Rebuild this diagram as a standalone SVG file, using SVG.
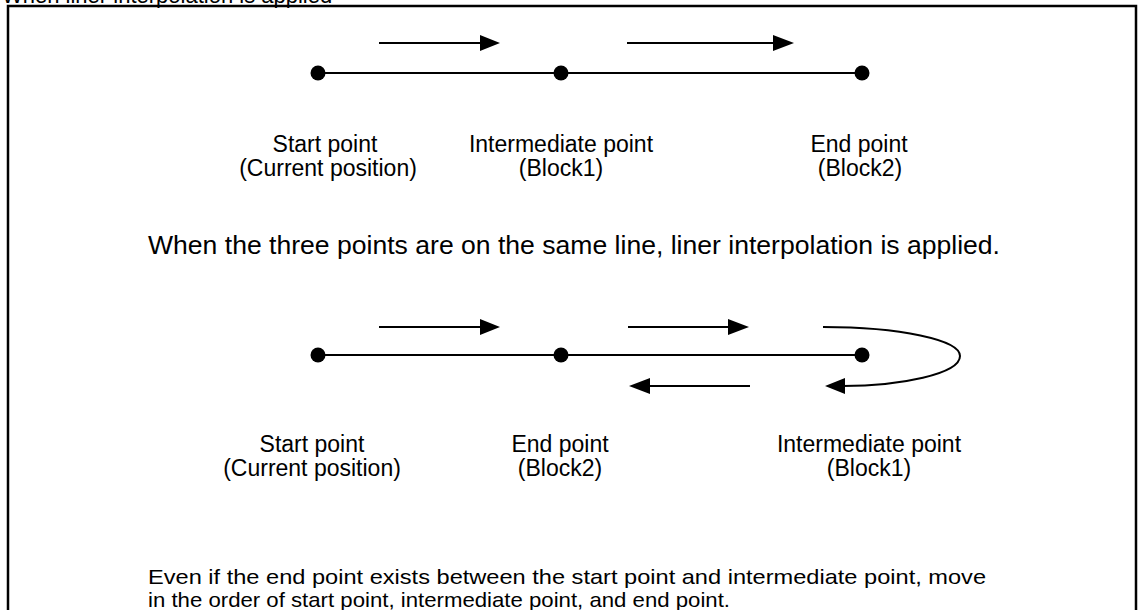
<svg xmlns="http://www.w3.org/2000/svg" width="1138" height="610" viewBox="0 0 1138 610">
<defs>
<style>
.t{font-family:"Liberation Sans",Arial,sans-serif;fill:#000;}
.lbl{font-size:23px;text-anchor:middle;}
.ln{stroke:#000;stroke-width:2;fill:none;}
.ar{stroke:#000;stroke-width:2;fill:none;}
.hd{fill:#000;}
.dot{fill:#000;}
</style>
</defs>
<rect width="1138" height="610" fill="#fff"/>
<text class="t" x="2" y="3" font-size="22">When liner interpolation is applied</text>
<path d="M8,640 V6 H1136 V640" fill="none" stroke="#000" stroke-width="2.5"/>

<g id="connectors">
<line class="ln" x1="318" y1="73" x2="862" y2="73"/>
<line class="ar" x1="379" y1="43" x2="482" y2="43"/>
<polygon class="hd" points="480,35 500,43 480,51"/>
<line class="ar" x1="627" y1="43" x2="775" y2="43"/>
<polygon class="hd" points="773,35 794,43 773,51"/>

<line class="ln" x1="318" y1="355" x2="862" y2="355"/>
<line class="ar" x1="379" y1="327" x2="482" y2="327"/>
<polygon class="hd" points="480,319 500,327 480,335"/>
<line class="ar" x1="628" y1="327" x2="730" y2="327"/>
<polygon class="hd" points="728,319 749,327 728,335"/>
<line class="ar" x1="648" y1="386" x2="750" y2="386"/>
<polygon class="hd" points="650,378 629,386 650,394"/>
<path class="ar" d="M823,327 C900,327 960,340 960,356 C960,374 900,386 843,386"/>
<polygon class="hd" points="845,378 825,386 845,394"/>
</g>

<g id="top-start">
<circle class="dot" cx="318" cy="73" r="7.5"/>
<text class="t lbl" x="325" y="152">Start point</text>
<text class="t lbl" x="328" y="176">(Current position)</text>
</g>
<g id="top-intermediate">
<circle class="dot" cx="561" cy="73" r="7.5"/>
<text class="t lbl" x="561" y="152">Intermediate point</text>
<text class="t lbl" x="561" y="176">(Block1)</text>
</g>
<g id="top-end">
<circle class="dot" cx="862" cy="73" r="7.5"/>
<text class="t lbl" x="859" y="152" font-size="22">End point</text>
<text class="t lbl" x="860" y="176">(Block2)</text>
</g>

<text class="t" x="148" y="254" font-size="26" textLength="852" lengthAdjust="spacingAndGlyphs">When the three points are on the same line, liner interpolation is applied.</text>

<g id="bottom-start">
<circle class="dot" cx="318" cy="355" r="7.5"/>
<text class="t lbl" x="312" y="452">Start point</text>
<text class="t lbl" x="312" y="476">(Current position)</text>
</g>
<g id="bottom-end">
<circle class="dot" cx="561" cy="355" r="7.5"/>
<text class="t lbl" x="560" y="452">End point</text>
<text class="t lbl" x="560" y="476">(Block2)</text>
</g>
<g id="bottom-intermediate">
<circle class="dot" cx="862" cy="355" r="7.5"/>
<text class="t lbl" x="869" y="452">Intermediate point</text>
<text class="t lbl" x="869" y="476">(Block1)</text>
</g>

<text class="t" x="148" y="584" font-size="21" textLength="838" lengthAdjust="spacingAndGlyphs">Even if the end point exists between the start point and intermediate point, move</text>
<text class="t" x="148" y="607" font-size="21" textLength="582" lengthAdjust="spacingAndGlyphs">in the order of start point, intermediate point, and end point.</text>
</svg>
